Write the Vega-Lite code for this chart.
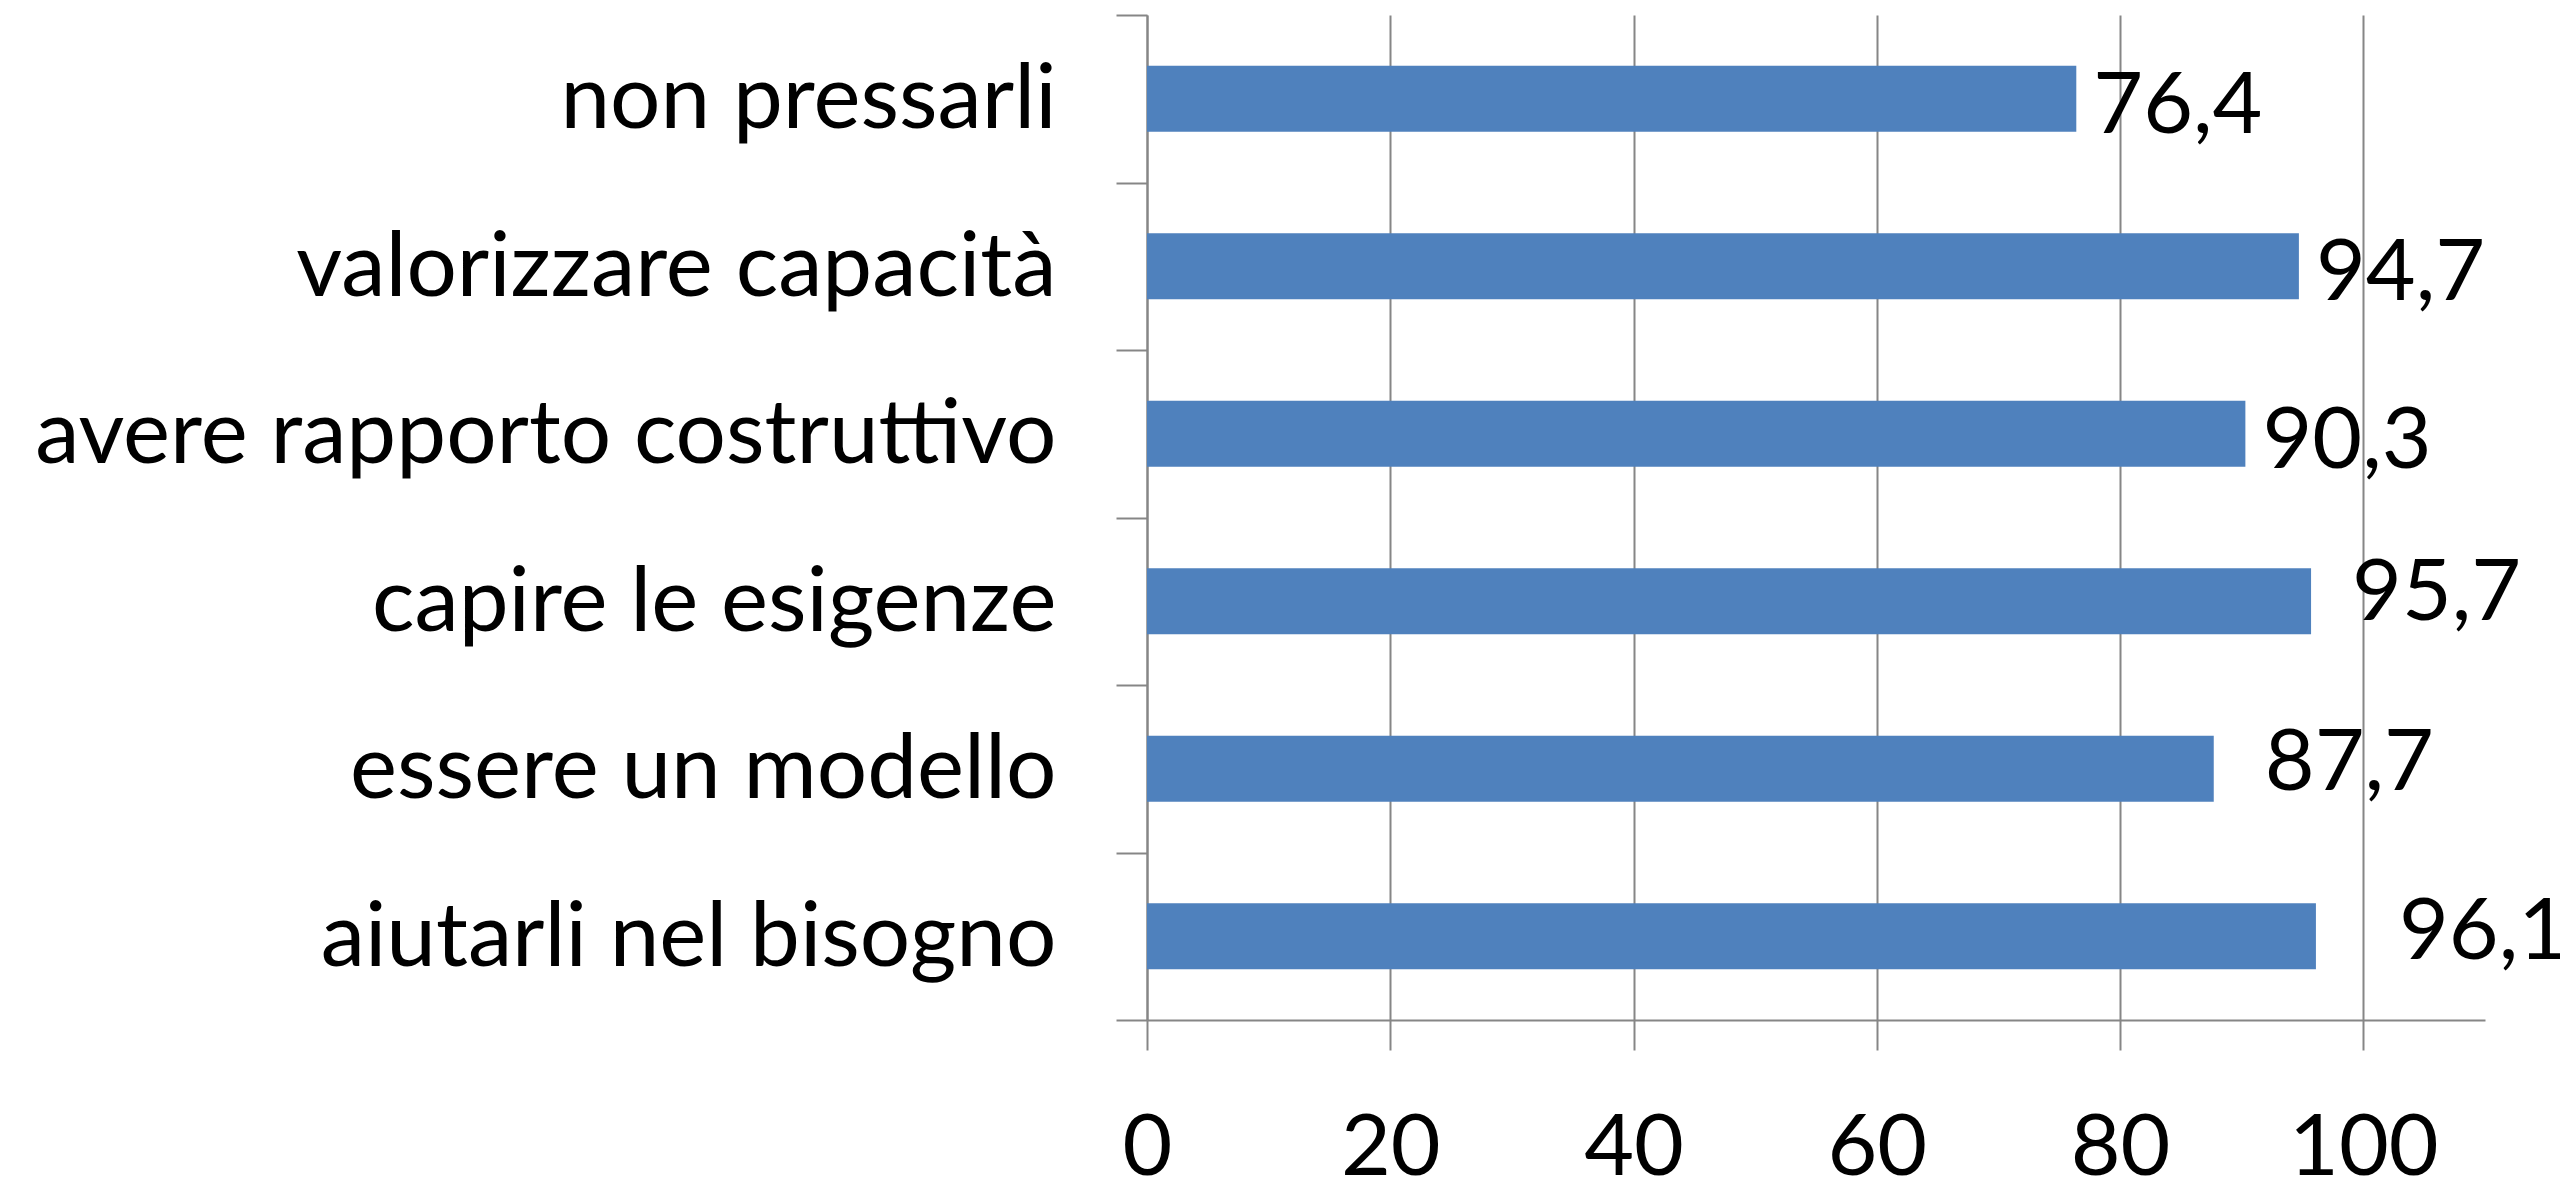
{
  "$schema": "https://vega.github.io/schema/vega-lite/v6.json",
  "width": 1338,
  "height": 1005,
  "autosize": {"type": "none"},
  "padding": {"left": 1147, "top": 15, "right": 75, "bottom": 158},
  "background": "white",
  "config": {
    "view": {"stroke": null},
    "font": "Lato",
    "locale": {"number": {"decimal": ",", "thousands": ".", "grouping": [3], "currency": ["€", ""]}}
  },
  "data": {
    "values": [
      {"cat": "non pressarli", "value": 76.4},
      {"cat": "valorizzare capacità", "value": 94.7},
      {"cat": "avere rapporto costruttivo", "value": 90.3},
      {"cat": "capire le esigenze", "value": 95.7},
      {"cat": "essere un modello", "value": 87.7},
      {"cat": "aiutarli nel bisogno", "value": 96.1}
    ]
  },
  "encoding": {
    "y": {
      "field": "cat", "type": "nominal", "sort": null,
      "scale": {"paddingInner": 0, "paddingOuter": 0},
      "axis": {
        "title": null, "tickBand": "extent", "grid": false,
        "domainColor": "#868686", "domainWidth": 2,
        "tickColor": "#868686", "tickWidth": 2, "tickSize": 31,
        "labelFont": "Lato", "labelFontSize": 89, "labelColor": "black",
        "labelPadding": 60, "labelOffset": 2, "labelLimit": 2000
      }
    },
    "x": {
      "field": "value", "type": "quantitative",
      "scale": {"domain": [0, 110], "nice": false, "zero": true},
      "axis": {
        "title": null, "values": [0, 20, 40, 60, 80, 100],
        "grid": true, "gridColor": "#868686", "gridWidth": 2,
        "domainColor": "#868686", "domainWidth": 2,
        "tickColor": "#868686", "tickWidth": 2, "tickSize": 30,
        "labelFont": "Lato", "labelFontSize": 86, "labelColor": "black",
        "labelPadding": 56, "labelFlush": false, "format": "d"
      }
    }
  },
  "layer": [
    {"mark": {"type": "bar", "color": "#4F81BD", "height": {"band": 0.394}}},
    {
      "transform": [{"filter": "datum.value < 95 && datum.cat != 'essere un modello'"}],
      "mark": {"type": "text", "align": "left", "baseline": "middle", "dx": 17, "dy": 8, "fontSize": 86, "font": "Lato", "color": "black"},
      "encoding": {"text": {"field": "value", "type": "quantitative", "format": ".1f"}}
    },
    {
      "transform": [{"filter": "datum.cat == 'capire le esigenze'"}],
      "mark": {"type": "text", "align": "left", "baseline": "middle", "dx": 41, "dy": -7, "fontSize": 86, "font": "Lato", "color": "black"},
      "encoding": {"text": {"field": "value", "type": "quantitative", "format": ".1f"}}
    },
    {
      "transform": [{"filter": "datum.cat == 'essere un modello'"}],
      "mark": {"type": "text", "align": "left", "baseline": "middle", "dx": 51, "dy": -5, "fontSize": 86, "font": "Lato", "color": "black"},
      "encoding": {"text": {"field": "value", "type": "quantitative", "format": ".1f"}}
    },
    {
      "transform": [{"filter": "datum.cat == 'aiutarli nel bisogno'"}],
      "mark": {"type": "text", "align": "left", "baseline": "middle", "dx": 83, "dy": -3, "fontSize": 86, "font": "Lato", "color": "black"},
      "encoding": {"text": {"field": "value", "type": "quantitative", "format": ".1f"}}
    }
  ]
}
